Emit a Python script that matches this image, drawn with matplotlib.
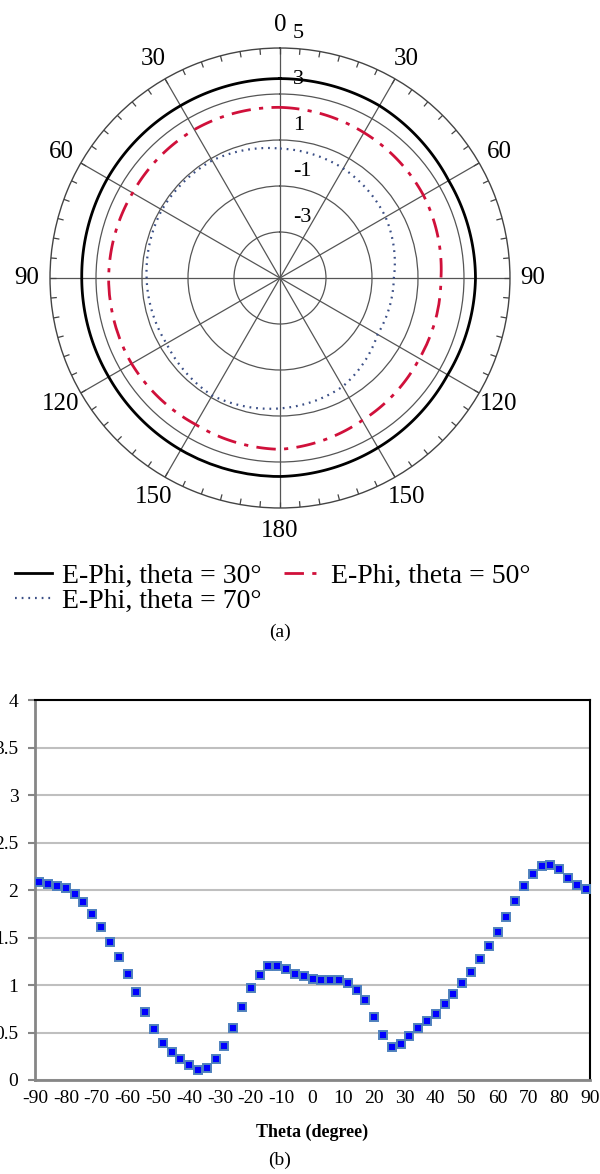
import numpy as np
import matplotlib
matplotlib.use('Agg')
import matplotlib.pyplot as plt

plt.rcParams['font.family'] = ['Liberation Serif', 'DejaVu Serif']

# (a) polar pattern, values every 30 deg (clockwise from top), last repeats first
phi_deg = [0, 30, 60, 90, 120, 150, 180, 210, 240, 270, 300, 330, 360]
e_phi_30 = [3.67, 3.65, 3.47, 3.50, 3.42, 3.52, 3.63, 3.63, 3.60, 3.62, 3.66, 3.65, 3.67]
e_phi_50 = [2.42, 2.30, 2.20, 2.00, 2.00, 2.15, 2.45, 2.35, 2.45, 2.45, 2.40, 2.45, 2.42]
e_phi_70 = [0.63, 0.50, 0.30, -0.05, -0.10, 0.45, 0.67, 0.90, 0.70, 0.80, 0.93, 0.90, 0.63]
r_ticks = [-3, -1, 1, 3, 5]
r_labels = ['-3', '-1', '1', '3', '5']
ang_ticks = [0, 30, 60, 90, 120, 150, 180, 210, 240, 270, 300, 330]
ang_labels = ['0', '30', '60', '90', '120', '150', '180', '150', '120', '90', '60', '30']

# (b) scatter
theta = [-88.6, -85.7, -82.9, -80.0, -77.1, -74.3, -71.4, -68.6, -65.7, -62.9,
         -60.0, -57.1, -54.3, -51.4, -48.6, -45.7, -42.9, -40.0, -37.1, -34.3,
         -31.4, -28.6, -25.7, -22.9, -20.0, -17.1, -14.3, -11.4, -8.6, -5.7,
         -2.9, 0.0, 2.9, 5.7, 8.6, 11.4, 14.3, 17.1, 20.0, 22.9,
         25.7, 28.6, 31.4, 34.3, 37.1, 40.0, 42.9, 45.7, 48.6, 51.4,
         54.3, 57.1, 60.0, 62.9, 65.7, 68.6, 71.4, 74.3, 77.1, 80.0,
         82.9, 85.7, 88.6]
vals = [2.08, 2.06, 2.04, 2.02, 1.96, 1.87, 1.75, 1.61, 1.45, 1.29,
        1.12, 0.93, 0.72, 0.54, 0.39, 0.29, 0.22, 0.16, 0.11, 0.13,
        0.22, 0.36, 0.55, 0.77, 0.97, 1.11, 1.20, 1.20, 1.17, 1.12,
        1.09, 1.06, 1.05, 1.05, 1.05, 1.02, 0.95, 0.84, 0.66, 0.47,
        0.35, 0.38, 0.46, 0.55, 0.62, 0.70, 0.80, 0.91, 1.02, 1.14,
        1.27, 1.41, 1.56, 1.72, 1.88, 2.04, 2.17, 2.25, 2.26, 2.22,
        2.13, 2.05, 2.01]
x_ticks = [-90, -80, -70, -60, -50, -40, -30, -20, -10, 0, 10, 20, 30, 40, 50, 60, 70, 80, 90]
x_labels = ['-90', '-80', '-70', '-60', '-50', '-40', '-30', '-20', '-10', '0',
            '10', '20', '30', '40', '50', '60', '70', '80', '90']
y_ticks = [0, 0.5, 1, 1.5, 2, 2.5, 3, 3.5, 4]
y_labels = ['0', '0.5', '1', '1.5', '2', '2.5', '3', '3.5', '4']

fig = plt.figure(figsize=(6, 11.74), dpi=100)

# ---- polar ----
ax = fig.add_axes([0.0833, 0.5673, 0.7667, 0.3918], projection='polar')
ax.set_theta_zero_location('N')
ax.set_theta_direction(-1)
ax.set_ylim(-5, 5)
ax.set_yticks(r_ticks[:-1])
ax.set_yticklabels([])
ax.set_xticks(np.deg2rad(ang_ticks))
ax.set_xticklabels([])
ax.tick_params(axis='x', which='both', length=0)
ax.grid(True, color='#555555', lw=0.9)
ax.spines['polar'].set_color('#444444')
ax.spines['polar'].set_linewidth(1.0)
# 5 degree tick marks on the inside of the rim
ax.vlines(np.deg2rad(np.arange(0, 360, 5)), 4.74, 5, color='#444444', lw=0.9)

t = np.deg2rad(phi_deg)
l30, = ax.plot(t, e_phi_30, color='black', lw=2.0, label='E-Phi, theta = 30°')
l50, = ax.plot(t, e_phi_50, color='#D0103A', lw=2.0, ls=(0, (7, 3, 1.5, 3)),
               label='E-Phi, theta = 50°')
l70, = ax.plot(t, e_phi_70, color='#3B4F86', lw=1.6, ls=(0, (0.8, 2.2)),
               label='E-Phi, theta = 70°')
# let the polar transform bend the segments into arcs
for ln in (l30, l50, l70):
    ln._path._interpolation_steps = 40

for rv, rl in zip(r_ticks, r_labels):
    ax.annotate(rl, xy=(0, rv), xytext=(13, 15), textcoords='offset pixels',
                ha='left', va='center', fontsize=16)
for a, al in zip(ang_ticks, ang_labels):
    ax.text(np.deg2rad(a), 6.0, al, ha='center', va='center', fontsize=18)

fig.legend([l30, l70, l50], [l30.get_label(), l70.get_label(), l50.get_label()],
           ncol=2, loc='upper left', bbox_to_anchor=(0.025, 1 - 563 / 1174),
           frameon=False, fontsize=20, handlelength=1.33, handletextpad=0.36,
           columnspacing=0.8, labelspacing=0.0, borderpad=0, borderaxespad=0)
fig.text(280 / 600, 1 - 632 / 1174, '(a)', ha='center', va='center', fontsize=14)

# ---- scatter ----
ax2 = fig.add_axes([35 / 600, 1 - 1080 / 1174, 555 / 600, 380 / 1174])
ax2.plot(theta, vals, ls='none', marker='s', ms=6, mfc='#0000FF', mec='#4F81BD',
         mew=1.4, zorder=3)
ax2.set_xlim(-90, 90)
ax2.set_ylim(0, 4)
ax2.set_xticks(x_ticks)
ax2.set_xticklabels(x_labels, fontsize=14)
ax2.set_yticks(y_ticks)
ax2.set_yticklabels(y_labels, fontsize=14)
ax2.yaxis.grid(True, color='#BFBFBF', lw=1.5)
ax2.set_axisbelow(True)
ax2.tick_params(axis='x', length=0, pad=7)
ax2.tick_params(axis='y', length=5, width=1.5, color='#868686', pad=7)
for s in ['left', 'bottom']:
    ax2.spines[s].set_color('#868686')
    ax2.spines[s].set_linewidth(2)
for s in ['top', 'right']:
    ax2.spines[s].set_color('black')
    ax2.spines[s].set_linewidth(1.5)
ax2.set_xlabel('Theta (degree)', fontsize=13, fontweight='bold', labelpad=12)
fig.text(280 / 600, 1 - 1160 / 1174, '(b)', ha='center', va='center', fontsize=14)

fig.savefig('out.png', dpi=100)
